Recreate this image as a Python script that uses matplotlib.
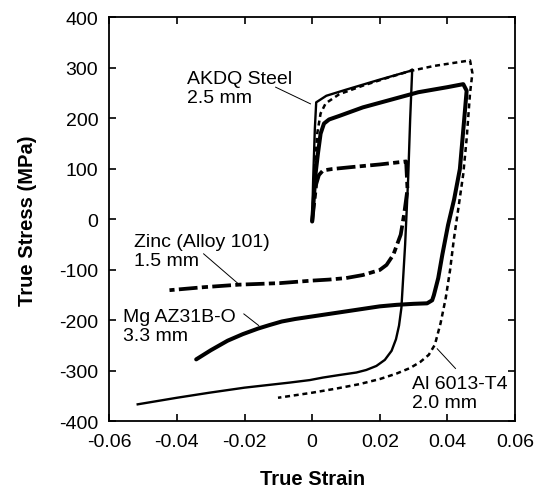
import matplotlib
matplotlib.use('Agg')
import matplotlib.pyplot as plt

plt.rcParams['font.family'] = ['Liberation Sans', 'DejaVu Sans']
plt.rcParams['axes.unicode_minus'] = False

# AKDQ steel, 2.5 mm (thin solid)
steel_x = [0.0, 0.0003, 0.0008, 0.0012, 0.0042, 0.010, 0.015, 0.020, 0.0289, 0.0296,
           0.0290, 0.0284, 0.0275, 0.0264, 0.0257, 0.0248, 0.0235, 0.0215, 0.0190, 0.0160,
           0.0131, 0.0080, 0.0032, -0.0007, -0.0067, -0.0200, -0.0304, -0.0400, -0.0516]
steel_y = [-4, 80, 180, 232, 245, 257, 267, 277, 294, 297,
           200, 81, -50, -175, -210, -237, -260, -278, -290, -298,
           -303, -308, -313, -318, -323, -333, -343, -353, -366]

# Al 6013-T4, 2.0 mm (dotted)
al_x = [0.0, 0.0008, 0.0015, 0.0025, 0.0040, 0.008, 0.015, 0.022, 0.029, 0.036, 0.0467,
        0.0474, 0.0467, 0.0457, 0.0447, 0.0432, 0.0419, 0.0408, 0.0395, 0.0380, 0.0363,
        0.0345, 0.0320, 0.0290, 0.0250, 0.0200, 0.0140, 0.0070, 0.0000, -0.0050, -0.0101]
al_y = [-4, 100, 170, 210, 230, 248, 265, 280, 294, 304, 315,
        290, 250, 160, 90, 20, -40, -100, -156, -205, -248,
        -268, -282, -294, -305, -316, -326, -335, -343, -348, -353]

# Mg AZ31B-O, 3.3 mm (thick solid)
mg_x = [0.0, 0.0010, 0.0017, 0.0025, 0.0035, 0.0050, 0.008, 0.015, 0.0314, 0.040, 0.0447,
        0.0457, 0.0450, 0.0437, 0.0420, 0.0402, 0.0385, 0.0373, 0.0360, 0.0355, 0.0340,
        0.030, 0.025, 0.020, 0.015, 0.010, 0.005, 0.0, -0.005, -0.009, -0.0126, -0.016,
        -0.0205, -0.025, -0.030, -0.0343]
mg_y = [-4, 90, 130, 170, 190, 198, 205, 222, 252, 262, 268,
        255, 200, 100, 40, -11, -70, -116, -150, -160, -166,
        -167, -169, -172, -177, -182, -187, -192, -197, -202, -209, -216,
        -227, -240, -259, -277]

# Zinc (Alloy 101), 1.5 mm (dash-dot)
zn_x = [0.0, 0.0012, 0.0020, 0.0032, 0.006, 0.012, 0.020, 0.0278,
        0.0282, 0.0272, 0.0262, 0.0240, 0.0220, 0.0200, 0.0150, 0.0100, 0.0050, 0.0,
        -0.0096, -0.0215, -0.0320, -0.0422]
zn_y = [-4, 70, 88, 97, 100, 104, 109, 115,
        60, 10, -30, -70, -90, -100, -110, -116, -119, -121,
        -126, -129, -134, -140]

labels = ['AKDQ Steel\n2.5 mm', 'Zinc (Alloy 101)\n1.5 mm', 'Mg AZ31B-O\n3.3 mm', 'Al 6013-T4\n2.0 mm']
label_xy = [(-0.0369, 261), (-0.0528, -62), (-0.0559, -211), (0.0296, -344)]
leaders = [((-0.0108, 262), (-0.0005, 229)),
           ((-0.0321, -68), (-0.0212, -131)),
           ((-0.0202, -187), (-0.0158, -210)),
           ((0.0370, -256), (0.0424, -295))]

fig = plt.figure(figsize=(5.35, 4.89), dpi=100)
ax = fig.add_axes([0.2043, 0.1360, 0.7583, 0.8262])

ax.plot(steel_x, steel_y, color='black', lw=1.7, solid_joinstyle='round')
ax.plot(al_x, al_y, color='black', lw=1.8, dashes=(2.0, 1.5))
ax.plot(mg_x, mg_y, color='black', lw=2.9, solid_joinstyle='round', solid_capstyle='round')
ax.plot(zn_x, zn_y, color='black', lw=2.7, dashes=(5, 1.15, 1.65, 1.15))

for txt, (tx, ty) in zip(labels, label_xy):
    ax.text(tx, ty, txt, fontsize=14, ha='left', va='center', linespacing=1.15)
for (x0, y0), (x1, y1) in leaders:
    ax.plot([x0, x1], [y0, y1], color='black', lw=0.7)

ax.set_xlim(-0.06, 0.06)
ax.set_ylim(-400, 400)
ax.set_xticks([-0.06, -0.04, -0.02, 0, 0.02, 0.04, 0.06])
ax.set_xticklabels(['-0.06', '-0.04', '-0.02', '0', '0.02', '0.04', '0.06'])
ax.set_yticks(range(-400, 401, 100))
ax.tick_params(direction='in', length=5, width=1.2, labelsize=14, pad=8,
               top=True, right=True)
for s in ax.spines.values():
    s.set_linewidth(1.3)

ax.set_xlabel('True Strain', fontsize=14.5, fontweight='bold', labelpad=14)
ax.set_ylabel('True Stress (MPa)', fontsize=14.5, fontweight='bold', labelpad=16)

fig.savefig('out.png', dpi=100)
